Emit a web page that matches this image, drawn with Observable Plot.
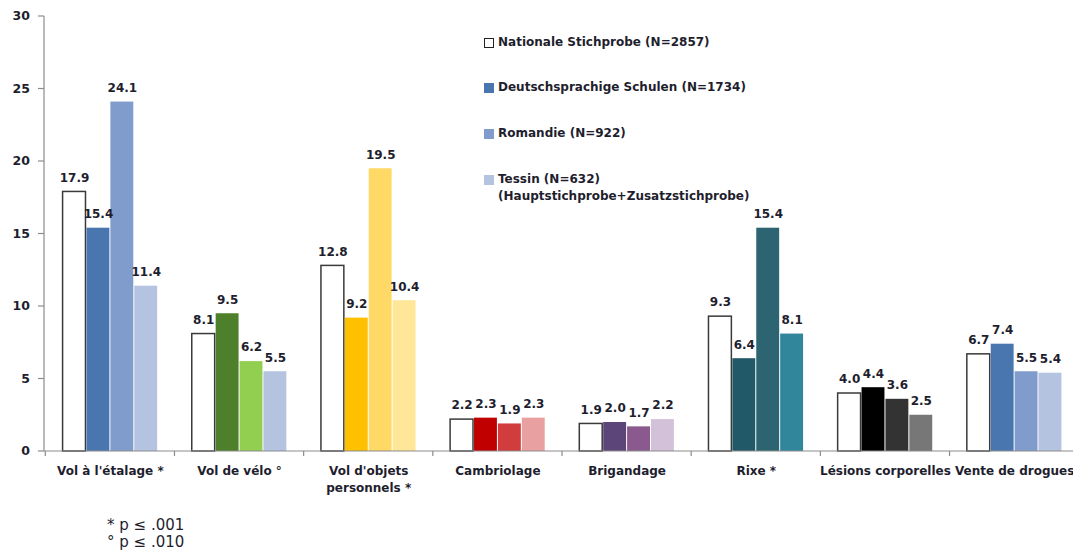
<!DOCTYPE html>
<html><head><meta charset="utf-8">
<script src="https://cdn.jsdelivr.net/npm/d3@7"></script>
<script src="https://cdn.jsdelivr.net/npm/@observablehq/plot@0.6"></script>
<style>
body{margin:0;background:#fff;font-family:"DejaVu Sans",sans-serif;}
#wrap{position:relative;width:1073px;height:552px;overflow:hidden;}
#chart svg{max-width:none !important;width:1080px !important;height:500px !important;}
#legend{position:absolute;left:484px;top:0;font-weight:bold;font-size:12px;color:#1e1e2e;}
.item{position:absolute;white-space:nowrap;display:flex;align-items:flex-start;}
.sw{width:10px;height:10px;margin-right:4px;margin-top:3px;box-sizing:border-box;flex:none;}
#notes{position:absolute;left:107px;top:517px;font-size:15px;line-height:17px;color:#1e1e2e;}
</style></head>
<body><div id="wrap"><div id="chart"></div><div id="legend"></div><div id="notes">* p ≤ .001<br>° p ≤ .010</div></div>
<script>
const categories = ["Vol à l'étalage *", "Vol de vélo °", "Vol d'objets\npersonnels *", "Cambriolage", "Brigandage", "Rixe *", "Lésions corporelles", "Vente de drogues"];
const series = ["Nationale Stichprobe (N=2857)", "Deutschsprachige Schulen (N=1734)", "Romandie (N=922)", "Tessin (N=632)"];
const legendNote = "(Hauptstichprobe+Zusatzstichprobe)";
const national = [17.9, 8.1, 12.8, 2.2, 1.9, 9.3, 4.0, 6.7];
const deutsch  = [15.4, 9.5, 9.2, 2.3, 2.0, 6.4, 4.4, 7.4];
const romandie = [24.1, 6.2, 19.5, 1.9, 1.7, 15.4, 3.6, 5.5];
const tessin   = [11.4, 5.5, 10.4, 2.3, 2.2, 8.1, 2.5, 5.4];
const yTicks = [0, 5, 10, 15, 20, 25, 30];
const groupColors = [
  ["#ffffff", "#4a76b0", "#7f9ccc", "#b3c3e0"],
  ["#ffffff", "#4e7f2a", "#92cf50", "#b3c3e0"],
  ["#ffffff", "#ffc000", "#ffd966", "#ffe699"],
  ["#ffffff", "#c00000", "#d13c3c", "#e8a0a0"],
  ["#ffffff", "#5c4578", "#8a5a8f", "#d3c0d9"],
  ["#ffffff", "#215968", "#2d6472", "#31869b"],
  ["#ffffff", "#000000", "#333333", "#777777"],
  ["#ffffff", "#4a76b0", "#7f9ccc", "#b3c3e0"]
];
const legendColors = ["#ffffff", "#4a76b0", "#7f9ccc", "#b3c3e0"];

const valuesBySeries = [national, deutsch, romandie, tessin];
const data = [];
categories.forEach((c, i) => series.forEach((s, j) => data.push({cat: c, ser: s, v: valuesBySeries[j][i], fill: groupColors[i][j], j})));

const W = 1080, H = 500, ML = 44, MT = 16, MB = 49;
const font = "'DejaVu Sans', sans-serif";
const plot = Plot.plot({
  width: W, height: H, marginLeft: ML, marginRight: 0, marginTop: MT, marginBottom: MB,
  style: {fontFamily: font, color: "#1e1e2e", background: "transparent", maxWidth: "none"},
  fx: {domain: categories, paddingInner: 0.26, paddingOuter: 0.14, round: false, label: null},
  x: {domain: series, padding: 0, round: false, axis: null},
  y: {domain: [0, 30], label: null, axis: null},
  color: {type: "identity"},
  marks: [
    Plot.axisFx({anchor: "bottom", tickSize: 0, tickPadding: 11, fontWeight: "bold", fontSize: 12, fill: "#1e1e2e", lineHeight: 1.45, label: null}),
    Plot.barY(data, {fx: "cat", x: "ser", y: "v", fill: "fill", insetLeft: 0.5, insetRight: 0.5,
      stroke: d => d.j === 0 ? "#3a3a3a" : "none", strokeWidth: 1.5}),
    Plot.text(data, {fx: "cat", x: "ser", y: "v", text: d => d.v.toFixed(1), dy: -14, fontWeight: "bold", fontSize: 12, fill: "#1e1e2e"})
  ]
});
document.getElementById("chart").appendChild(plot);

// y axis, baseline & category boundary ticks drawn from the scales
const svg = d3.select(plot);
const ys = plot.scale("y"), fxs = plot.scale("fx");
const y0 = ys.apply(0), yTop = ys.apply(30);
const g = svg.append("g").attr("stroke", "#8c8c8c").attr("stroke-width", 1.2);
g.append("line").attr("x1", ML).attr("x2", ML).attr("y1", yTop).attr("y2", y0);
g.append("line").attr("x1", ML).attr("x2", W).attr("y1", y0).attr("y2", y0);
yTicks.forEach(t => {
  g.append("line").attr("x1", ML - 6).attr("x2", ML).attr("y1", ys.apply(t)).attr("y2", ys.apply(t));
});
const tg = svg.append("g").attr("font-family", font).attr("font-weight", "bold").attr("font-size", 12.5).attr("fill", "#1e1e2e").attr("text-anchor", "end");
yTicks.forEach(t => {
  tg.append("text").attr("x", ML - 14).attr("y", ys.apply(t)).attr("dy", "0.35em").text(t);
});
const pad = (fxs.step - fxs.bandwidth) / 2;
const bounds = categories.map(c => fxs.apply(c) - pad);
bounds.push(fxs.apply(categories[categories.length - 1]) + fxs.bandwidth + pad);
bounds.forEach(xb => {
  g.append("line").attr("x1", xb).attr("x2", xb).attr("y1", y0).attr("y2", y0 + 5);
});

// legend
const legendTops = [35, 80, 126, 172];
const lg = document.getElementById("legend");
series.forEach((s, j) => {
  const d = document.createElement("div");
  d.className = "item";
  d.style.top = legendTops[j] + "px";
  const sw = document.createElement("div");
  sw.className = "sw";
  sw.style.background = legendColors[j];
  if (j === 0) sw.style.border = "1.5px solid #222";
  d.appendChild(sw);
  const t = document.createElement("div");
  t.innerHTML = j === 3 ? s + "<br>" + legendNote : s;
  t.style.lineHeight = "17px";
  t.style.marginTop = "-1px";
  d.appendChild(t);
  lg.appendChild(d);
});
</script></body></html>
